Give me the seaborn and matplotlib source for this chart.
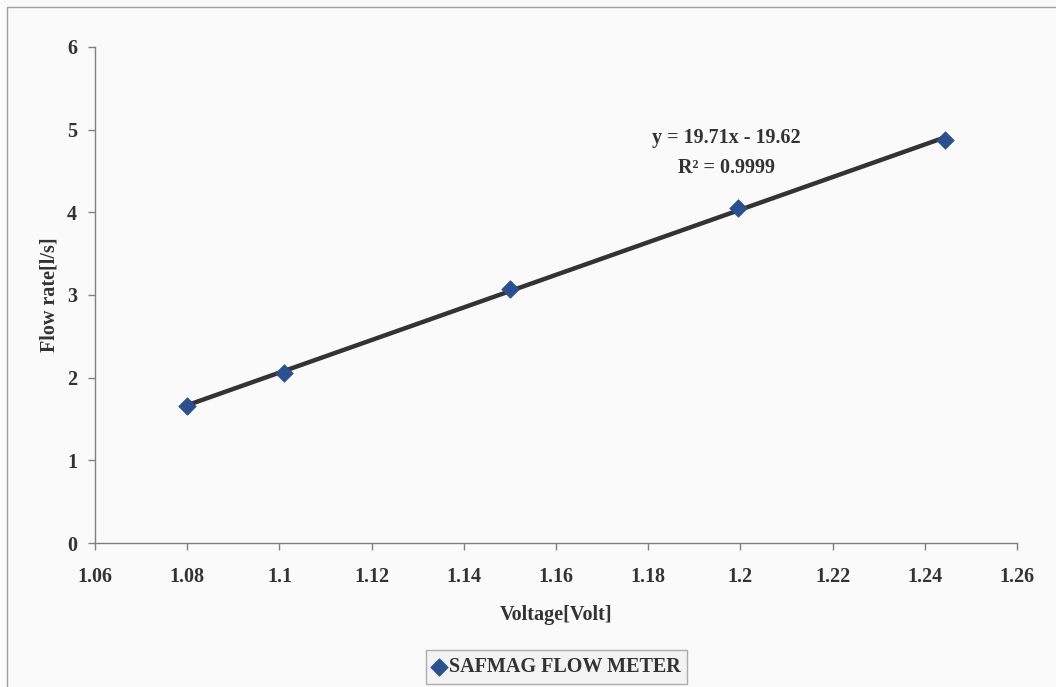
import numpy as np
import pandas as pd
import matplotlib
matplotlib.use("Agg")
import matplotlib.pyplot as plt
from matplotlib.patches import Rectangle
import seaborn as sns

# Calibration measurements
voltage = [1.08, 1.101, 1.15, 1.1995, 1.2445]
flow_rate = [1.66, 2.06, 3.07, 4.05, 4.87]
series_name = "SAFMAG FLOW METER"

# Linear trendline coefficients
slope = 19.71
intercept = -19.62
r_squared = 0.9999

x_ticks = [1.06, 1.08, 1.1, 1.12, 1.14, 1.16, 1.18, 1.2, 1.22, 1.24, 1.26]
x_tick_labels = ["1.06", "1.08", "1.1", "1.12", "1.14", "1.16", "1.18", "1.2", "1.22", "1.24", "1.26"]
y_ticks = [0, 1, 2, 3, 4, 5, 6]

sns.set_theme(style="white")
plt.rcParams["font.family"] = ["Liberation Serif", "DejaVu Serif"]
plt.rcParams["font.weight"] = "bold"

bg = "#fafafa"
text_color = "#333333"
axis_color = "#808080"
fs = 14.5

fig = plt.figure(figsize=(10.56, 6.87), dpi=100, facecolor=bg)
ax = fig.add_axes([0.09, 0.2096, 0.873, 0.722])
ax.set_facecolor(bg)

df = pd.DataFrame({"Voltage": voltage, "Flow": flow_rate})

# Trendline from the fitted equation
fit_x = np.array([min(voltage), max(voltage)])
fit_y = slope * fit_x + intercept
sns.lineplot(x=fit_x, y=fit_y, ax=ax, color="#333333", linewidth=3.2, zorder=2)

sns.scatterplot(data=df, x="Voltage", y="Flow", ax=ax, marker="D", s=80,
                color="#2c4f8e", edgecolor="#2c4f8e", linewidth=0.5,
                label=series_name, zorder=3, legend=False)

ax.set_xlim(1.06, 1.26)
ax.set_ylim(0, 6)
ax.set_xticks(x_ticks)
ax.set_xticklabels(x_tick_labels)
ax.set_yticks(y_ticks)

for side in ["top", "right"]:
    ax.spines[side].set_visible(False)
for side in ["left", "bottom"]:
    ax.spines[side].set_color(axis_color)
    ax.spines[side].set_linewidth(1.0)

ax.tick_params(axis="both", which="major", direction="out", length=5,
               width=1.0, color=axis_color, labelsize=fs, labelcolor=text_color,
               bottom=True, left=True)
ax.tick_params(axis="x", pad=12)
ax.tick_params(axis="y", pad=8)
for lbl in ax.get_xticklabels() + ax.get_yticklabels():
    lbl.set_fontweight("bold")

ax.set_xlabel("Voltage[Volt]", fontsize=fs, fontweight="bold", color=text_color, labelpad=13)
ax.set_ylabel("Flow rate[l/s]", fontsize=fs, fontweight="bold", color=text_color, labelpad=5)

ax.text(1.197, 4.9, f"y = {slope:.2f}x - {abs(intercept):.2f}", ha="center", va="center",
        fontsize=fs, fontweight="bold", color=text_color)
ax.text(1.197, 4.54, f"R² = {r_squared:.4f}", ha="center", va="center",
        fontsize=fs, fontweight="bold", color=text_color)

handles, labels = ax.get_legend_handles_labels()
leg = fig.legend(handles, labels, loc="center", bbox_to_anchor=(0.527, 0.029),
                 frameon=True, fancybox=False, handlelength=0.6, handletextpad=0.2,
                 borderpad=0.35, prop={"size": fs, "weight": "bold"})
leg.get_frame().set_edgecolor("#9a9a9a")
leg.get_frame().set_facecolor("#f2f2f2")
leg.get_frame().set_linewidth(1.0)
for t in leg.get_texts():
    t.set_color(text_color)

# Chart area border
fig.patches.append(Rectangle((7 / 1056, -0.01), 1.2, 1 - 7 / 687 + 0.01,
                             transform=fig.transFigure, fill=False,
                             edgecolor="#a0a0a0", linewidth=1.0))

fig.savefig("out.png", dpi=100, facecolor=bg)
